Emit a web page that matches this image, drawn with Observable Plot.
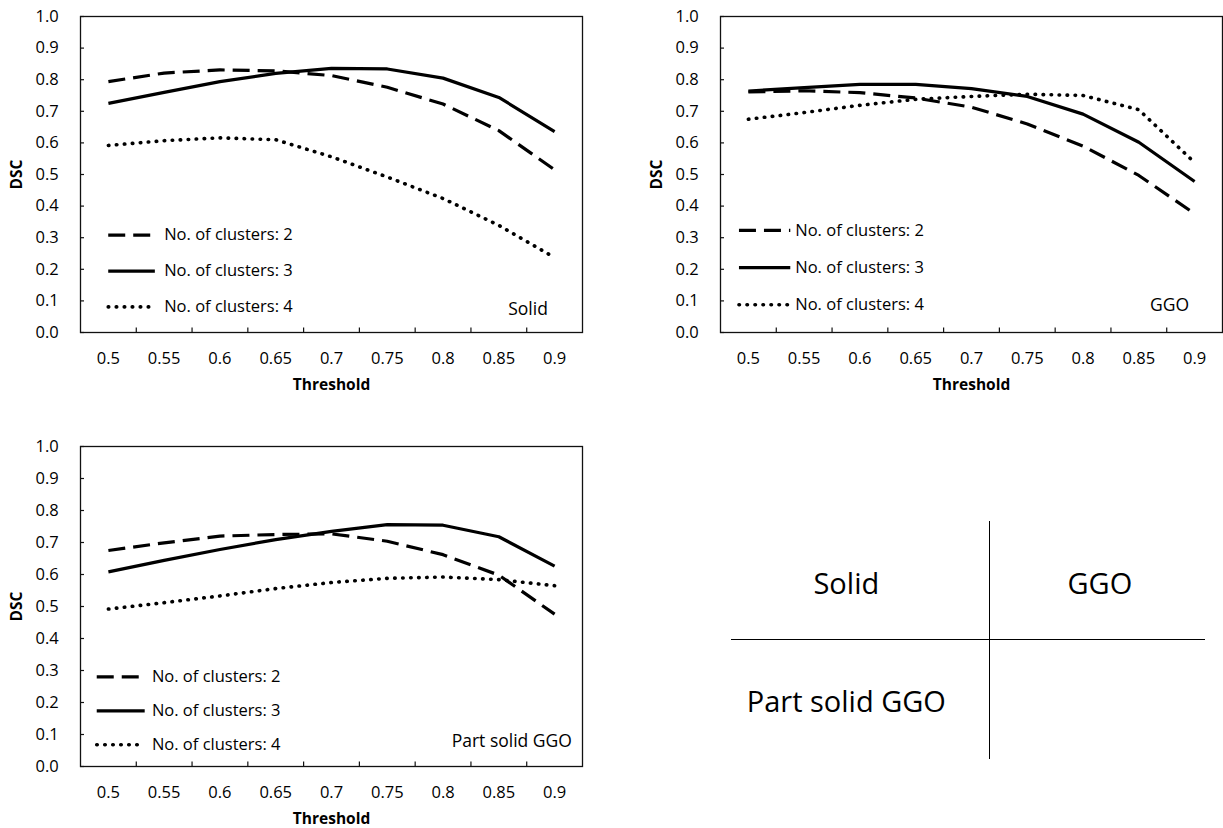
<!DOCTYPE html>
<html>
<head>
<meta charset="utf-8">
<script src="https://cdn.jsdelivr.net/npm/d3@7"></script>
<script src="https://cdn.jsdelivr.net/npm/@observablehq/plot@0.6"></script>
<style>
  html, body { margin: 0; padding: 0; background: #fff; }
  #wrap { position: relative; width: 1223px; height: 828px; overflow: hidden; font-family: "Open Sans", sans-serif; color: #000; }
  .panel { position: absolute; }
  #table { position: absolute; left: 731px; top: 521px; width: 474px; height: 238px;
           display: grid; grid-template-columns: 258.7px 215.3px; grid-template-rows: 118.6px 119.4px; }
  #table div { box-sizing: border-box; display: flex; align-items: center; justify-content: center;
               font-size: 29px; line-height: 1; white-space: nowrap; }
  #table .c0 { border-right: 1.6px solid #000; border-bottom: 1.6px solid #000; padding-right: 27px; padding-top: 5px; }
  #table .c1 { border-bottom: 1.6px solid #000; padding-left: 5px; padding-top: 5px; }
  #table .c2 { border-right: 1.6px solid #000; padding-right: 27px; padding-top: 2px; }
</style>
</head>
<body>
<div id="wrap"></div>
<script>
// ---- data ----
const thresholds = [0.5, 0.55, 0.6, 0.65, 0.7, 0.75, 0.8, 0.85, 0.9];
const thresholdLabels = ["0.5", "0.55", "0.6", "0.65", "0.7", "0.75", "0.8", "0.85", "0.9"];
const yTicks = [0, 0.1, 0.2, 0.3, 0.4, 0.5, 0.6, 0.7, 0.8, 0.9, 1.0];
const yTickLabels = ["0.0", "0.1", "0.2", "0.3", "0.4", "0.5", "0.6", "0.7", "0.8", "0.9", "1.0"];
const seriesNames = ["No. of clusters: 2", "No. of clusters: 3", "No. of clusters: 4"];
const panelNames = ["Solid", "GGO", "Part solid GGO"];

const solid2 = [0.794, 0.821, 0.831, 0.828, 0.813, 0.776, 0.723, 0.639, 0.515];
const solid3 = [0.725, 0.760, 0.794, 0.820, 0.836, 0.834, 0.805, 0.744, 0.636];
const solid4 = [0.592, 0.607, 0.616, 0.610, 0.556, 0.492, 0.424, 0.339, 0.237];

const ggo2 = [0.761, 0.765, 0.759, 0.742, 0.713, 0.660, 0.590, 0.497, 0.376];
const ggo3 = [0.764, 0.775, 0.785, 0.785, 0.772, 0.747, 0.691, 0.602, 0.478];
const ggo4 = [0.675, 0.696, 0.719, 0.738, 0.747, 0.754, 0.750, 0.705, 0.538];

const part2 = [0.675, 0.699, 0.720, 0.725, 0.727, 0.704, 0.662, 0.598, 0.476];
const part3 = [0.608, 0.644, 0.678, 0.709, 0.735, 0.756, 0.754, 0.718, 0.626];
const part4 = [0.492, 0.512, 0.533, 0.556, 0.575, 0.588, 0.592, 0.584, 0.565];

const tableLabels = ["Solid", "GGO", "Part solid GGO"];

// ---- styles ----
const seriesStyles = [
  { strokeDasharray: "17,8", strokeLinecap: "butt", strokeWidth: 3.2 },
  { strokeDasharray: null, strokeLinecap: "butt", strokeWidth: 3.2 },
  { strokeDasharray: "0.5,7.5", strokeLinecap: "round", strokeWidth: 3.6 }
];
const tickFont = 16.5;

const wrap = document.getElementById("wrap");
const boundaries = thresholds.slice(0, -1).map((t, i) => (t + thresholds[i + 1]) / 2);
const xDomain = [thresholds[0] - 0.025, thresholds[thresholds.length - 1] + 0.025];

function panel(cfg) {
  const rows = [];
  cfg.values.forEach((vals, s) => thresholds.forEach((t, i) => rows.push({ s, series: seriesNames[s], x: t, y: vals[i] })));
  const L = cfg.legend;
  const marks = [
    Plot.frame({ stroke: "#111", strokeWidth: 1.3 }),
    Plot.axisY(yTicks, { anchor: "left", tickSize: 0, tickPadding: 21.7, tickFormat: d => yTickLabels[yTicks.indexOf(d)], fontSize: tickFont, label: null }),
    Plot.axisY(yTicks, { anchor: "left", tickSize: 4, dx: 4, tickFormat: () => "", label: null, stroke: "#111", strokeWidth: 1.2 }),
    Plot.axisX(thresholds, { anchor: "bottom", tickSize: 0, tickPadding: 19.5, tickFormat: d => thresholdLabels[thresholds.indexOf(d)], fontSize: tickFont, label: null }),
    Plot.axisX(boundaries, { anchor: "bottom", tickSize: 4.5, dy: -4.5, tickFormat: () => "", label: null, stroke: "#111", strokeWidth: 1.2 }),
    Plot.text(["Threshold"], { frameAnchor: "bottom", dy: 52.5, lineAnchor: "middle", fontWeight: "bold", fontSize: 15.5 }),
    Plot.text(["DSC"], { frameAnchor: "left", dx: -63, rotate: -90, lineAnchor: "middle", textAnchor: "middle", fontWeight: "bold", fontSize: 15.5 })
  ];
  seriesStyles.forEach((st, s) => {
    marks.push(Plot.line(rows.filter(r => r.s === s), { x: "x", y: "y", stroke: "black", strokeLinejoin: "round", ...st }));
    marks.push(Plot.ruleY([seriesNames[s]], { y: () => L.y0 - s * L.step, x1: L.x0, x2: L.x1, stroke: "black", ...st }));
  });
  marks.push(Plot.text(seriesNames, { x: L.xt, y: (d, i) => L.y0 - i * L.step, text: d => d, textAnchor: "start", lineAnchor: "middle", fontSize: tickFont }));
  marks.push(Plot.text([cfg.name], { x: cfg.label.x, y: cfg.label.y, text: d => d, textAnchor: "end", lineAnchor: "middle", fontSize: 17.5 }));

  const chart = Plot.plot({
    width: cfg.width, height: cfg.height,
    marginLeft: 80, marginRight: cfg.marginRight, marginTop: 16, marginBottom: cfg.marginBottom,
    style: { fontFamily: "Open Sans", fontSize: tickFont + "px", color: "#000", background: "transparent" },
    x: { type: "linear", domain: xDomain },
    y: { domain: [0, 1] },
    marks
  });
  chart.classList.add("panel");
  chart.style.left = cfg.left + "px";
  chart.style.top = cfg.top + "px";
  wrap.appendChild(chart);
}

panel({ name: panelNames[0], values: [solid2, solid3, solid4], left: 0, top: 0, width: 600, height: 400, marginRight: 18, marginBottom: 68,
        legend: { x0: 0.5003, x1: 0.5421, xt: 0.550, y0: 0.308, step: 0.1135 }, label: { x: 0.894, y: 0.072 } });
panel({ name: panelNames[1], values: [ggo2, ggo3, ggo4], left: 640, top: 0, width: 583, height: 400, marginRight: 1, marginBottom: 68,
        legend: { x0: 0.492, x1: 0.538, xt: 0.542, y0: 0.323, step: 0.1175 }, label: { x: 0.895, y: 0.085 } });
panel({ name: panelNames[2], values: [part2, part3, part4], left: 0, top: 430, width: 600, height: 398, marginRight: 18, marginBottom: 62,
        legend: { x0: 0.490, x1: 0.533, xt: 0.539, y0: 0.280, step: 0.106 }, label: { x: 0.9155, y: 0.080 } });

// key table
const table = document.createElement("div");
table.id = "table";
tableLabels.forEach((t, i) => {
  const c = document.createElement("div");
  c.className = "c" + i;
  c.textContent = t;
  table.appendChild(c);
});
wrap.appendChild(table);
</script>
</body>
</html>
